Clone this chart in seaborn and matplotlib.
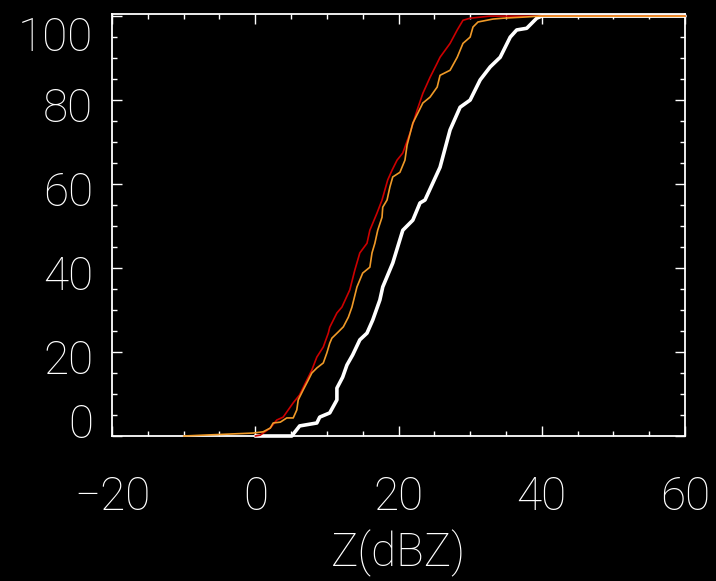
import matplotlib
matplotlib.use("Agg")
import matplotlib.pyplot as plt
import matplotlib.transforms as mtransforms
from matplotlib.ticker import MultipleLocator
import seaborn as sns
import pandas as pd

# ---- data ----
white_x = [0, 5.1, 6.2, 8.6, 9.0, 10.4, 11.4, 11.4, 12.2, 12.8, 13.6, 14.6, 15.6, 16.4, 17.4, 17.8, 19.2,
           20.6, 22.0, 23.0, 23.7, 25.8, 27.2, 28.6, 30.0, 31.4, 32.8, 34.2, 35.6, 36.5, 37.9, 39.3, 40.0, 60]
white_y = [0, 0, 2.4, 3.1, 4.5, 5.5, 8.6, 11.4, 14.0, 16.9, 19.3, 22.9, 24.5, 27.6, 32.4, 35.5, 41.2,
           49.0, 51.4, 55.5, 56.2, 64.0, 72.9, 78.3, 80.0, 84.8, 87.9, 90.2, 95.0, 96.7, 97.1, 99.5, 100, 100]

red_x = [0, 0.7, 2.1, 3.0, 3.9, 5.3, 6.2, 7.2, 7.9, 8.6, 9.5, 10.2, 10.4, 11.4, 12.1, 13.2, 13.9, 14.6,
         15.6, 16.0, 17.0, 17.7, 18.1, 18.5, 19.1, 19.8, 20.6, 21.6, 22.6, 23.4, 24.4, 25.4, 25.8, 27.2,
         28.2, 29.0, 30.0, 32.8, 60]
red_y = [0, 0.2, 1.9, 3.8, 4.5, 7.9, 9.8, 13.3, 15.7, 18.8, 21.2, 24.5, 25.9, 29.3, 30.7, 34.8, 39.5, 43.6,
         45.9, 49.0, 53.1, 56.2, 58.6, 61.0, 63.3, 65.7, 67.4, 72.1, 77.6, 81.6, 85.4, 88.8, 90.2, 93.5,
         96.7, 99.0, 99.5, 100, 100]

orange_x = [-10, -0.3, 1.1, 2.1, 2.5, 3.5, 4.4, 5.3, 5.8, 6.0, 6.7, 7.4, 7.9, 8.6, 9.5, 10.0, 10.4, 10.7,
            11.6, 12.3, 13.0, 13.5, 14.2, 15.0, 16.0, 16.3, 16.7, 17.1, 17.7, 17.8, 18.4, 18.8, 19.2, 20.2,
            20.9, 21.2, 22.0, 23.4, 24.4, 25.4, 25.8, 27.2, 28.2, 29.0, 30.0, 30.4, 31.1, 33.2, 34.6, 37.9,
            39.7, 60]
orange_y = [0, 0.7, 1.0, 1.9, 3.1, 3.3, 4.3, 4.3, 6.2, 8.6, 11.0, 13.3, 15.0, 16.2, 17.4, 19.8, 22.1, 23.3,
            24.8, 26.0, 28.3, 30.7, 35.5, 38.8, 40.2, 43.6, 45.9, 49.0, 52.1, 54.5, 56.2, 59.3, 61.7, 62.8,
            65.7, 69.3, 74.5, 79.3, 80.7, 83.1, 85.9, 87.1, 90.2, 93.5, 95.0, 97.4, 98.6, 99.3, 99.5, 99.8,
            100, 100]

x_ticks = [-20, 0, 20, 40, 60]
y_ticks = [0, 20, 40, 60, 80, 100]
x_label = "Z(dBZ)"

# ---- style ----
sns.set_theme(style="ticks", rc={
    "figure.facecolor": "black", "axes.facecolor": "black", "savefig.facecolor": "black",
    "axes.edgecolor": "white", "text.color": "white", "axes.labelcolor": "white",
    "xtick.color": "white", "ytick.color": "white", "axes.grid": False,
})
plt.rcParams["font.family"] = ["Roboto", "Liberation Sans", "DejaVu Sans"]
plt.rcParams["font.weight"] = "light"

fig = plt.figure(figsize=(7.16, 5.81), dpi=100)
ax = fig.add_axes([112 / 716, 1 - 436 / 581, (685 - 112) / 716, (436 - 14) / 581])

series = [
    ("white", white_x, white_y, "white", 2.6),
    ("red", red_x, red_y, "#cc0000", 1.2),
    ("orange", orange_x, orange_y, "#f09a28", 1.2),
]
for name, xs, ys, col, lw in series:
    df = pd.DataFrame({"x": xs, "y": ys})
    sns.lineplot(data=df, x="x", y="y", ax=ax, color=col, linewidth=lw,
                 sort=False, estimator=None, legend=False, clip_on=False, zorder=3)

ax.set_xlim(-20, 60)
ax.set_ylim(0, 100.5)
ax.set_xticks(x_ticks)
ax.set_yticks(y_ticks)
ax.set_xticklabels(["\u221220" if t < 0 else str(t) for t in x_ticks])
ax.set_yticklabels([str(t) for t in y_ticks])
ax.xaxis.set_minor_locator(MultipleLocator(5))
ax.yaxis.set_minor_locator(MultipleLocator(5))

for s in ax.spines.values():
    s.set_color("white")
    s.set_linewidth(1.3)

ax.tick_params(which="both", direction="in", top=True, right=True, colors="white", width=1.0)
ax.tick_params(which="major", length=7)
ax.tick_params(which="minor", length=3.5)
ax.tick_params(axis="x", which="major", pad=28, labelsize=33)
ax.tick_params(axis="y", which="major", pad=13.5, labelsize=33)

# IDL-style keeps end labels inside the axis range
offsets = {0: 0.15, 100: -0.17}
for tick, val in zip(ax.yaxis.get_major_ticks(), y_ticks):
    dy = offsets.get(val, -0.04)
    tick.label1.set_transform(tick.label1.get_transform() +
                              mtransforms.ScaledTranslation(0, dy, fig.dpi_scale_trans))

ax.set_xlabel(x_label, fontsize=33, color="white", fontweight="light")
ax.set_ylabel("")
ax.xaxis.set_label_coords(0.5, -(553 - 436) / 422)
ax.xaxis.label.set_va("center")

fig.savefig("out.png", dpi=100, facecolor="black")
